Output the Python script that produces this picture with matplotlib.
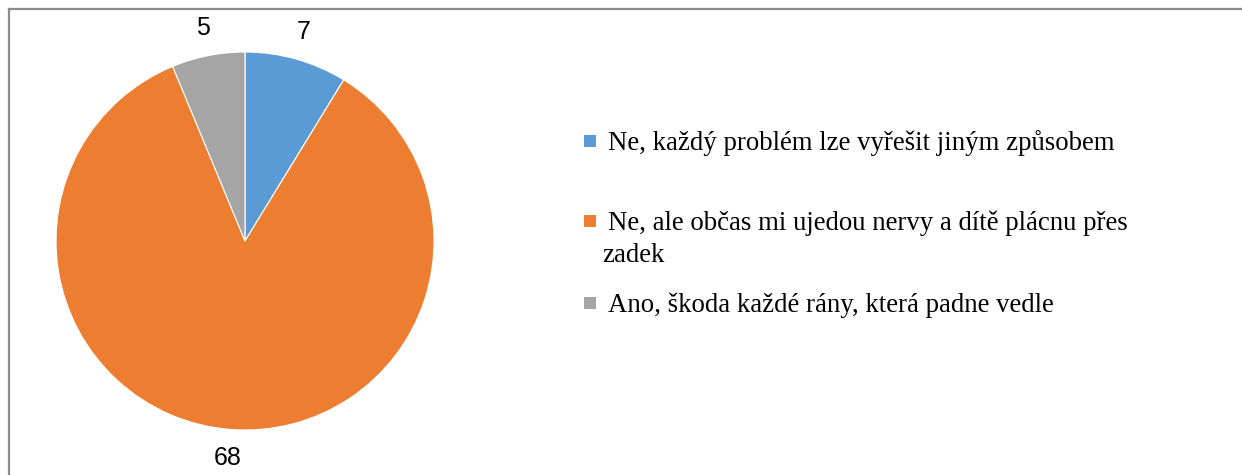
import matplotlib
matplotlib.use('Agg')
import matplotlib.pyplot as plt
from matplotlib.lines import Line2D
from matplotlib.patches import Rectangle

# data
labels = ['Ne, každý problém lze vyřešit jiným způsobem',
          'Ne, ale občas mi ujedou nervy a dítě plácnu přes\nzadek',
          'Ano, škoda každé rány, která padne vedle']
values = [7, 68, 5]
colors = ['#5B9BD5', '#ED7D31', '#A5A5A5']

W, H = 1242, 475
fig = plt.figure(figsize=(W / 100, H / 100), dpi=100)

# pie axes: centre (245, 241), radius 189 px
cx, cy, r = 245, 241, 189
ax = fig.add_axes([(cx - r) / W, (H - cy - r) / H, 2 * r / W, 2 * r / H])
wedges, texts = ax.pie(values, colors=colors, startangle=90, counterclock=False,
                       labels=[str(v) for v in values], labeldistance=1.15,
                       wedgeprops=dict(edgecolor='white', linewidth=0.8),
                       textprops=dict(fontsize=18, family='Liberation Sans', color='black'))
ax.set_xlim(-1, 1)
ax.set_ylim(-1, 1)
ax.set_aspect('equal')
for t in texts:
    t.set_horizontalalignment('center')
    t.set_verticalalignment('center')

# legend drawn by hand (uneven spacing in original)
first_baselines = [150, 230, 312]
line_gap = 32
for lab, col, yb in zip(labels, colors, first_baselines):
    fig.patches.append(Rectangle((584 / W, 1 - (yb - 3) / H), 12 / W, 12 / H,
                                 transform=fig.transFigure, facecolor=col,
                                 edgecolor='none'))
    for i, line in enumerate(lab.split('\n')):
        x = 608 if i == 0 else 602
        fig.text(x / W, 1 - (yb + i * line_gap) / H, line, fontsize=19.3,
                 family='Liberation Serif', va='baseline', ha='left')

# outer frame (left and top only visible)
fig.add_artist(Line2D([9 / W, 9 / W], [0, 1 - 9 / H], transform=fig.transFigure,
                      color='#8c8c8c', lw=1.6))
fig.add_artist(Line2D([9 / W, 1], [1 - 9 / H, 1 - 9 / H], transform=fig.transFigure,
                      color='#8c8c8c', lw=1.6))

fig.savefig('out.png', dpi=100)
